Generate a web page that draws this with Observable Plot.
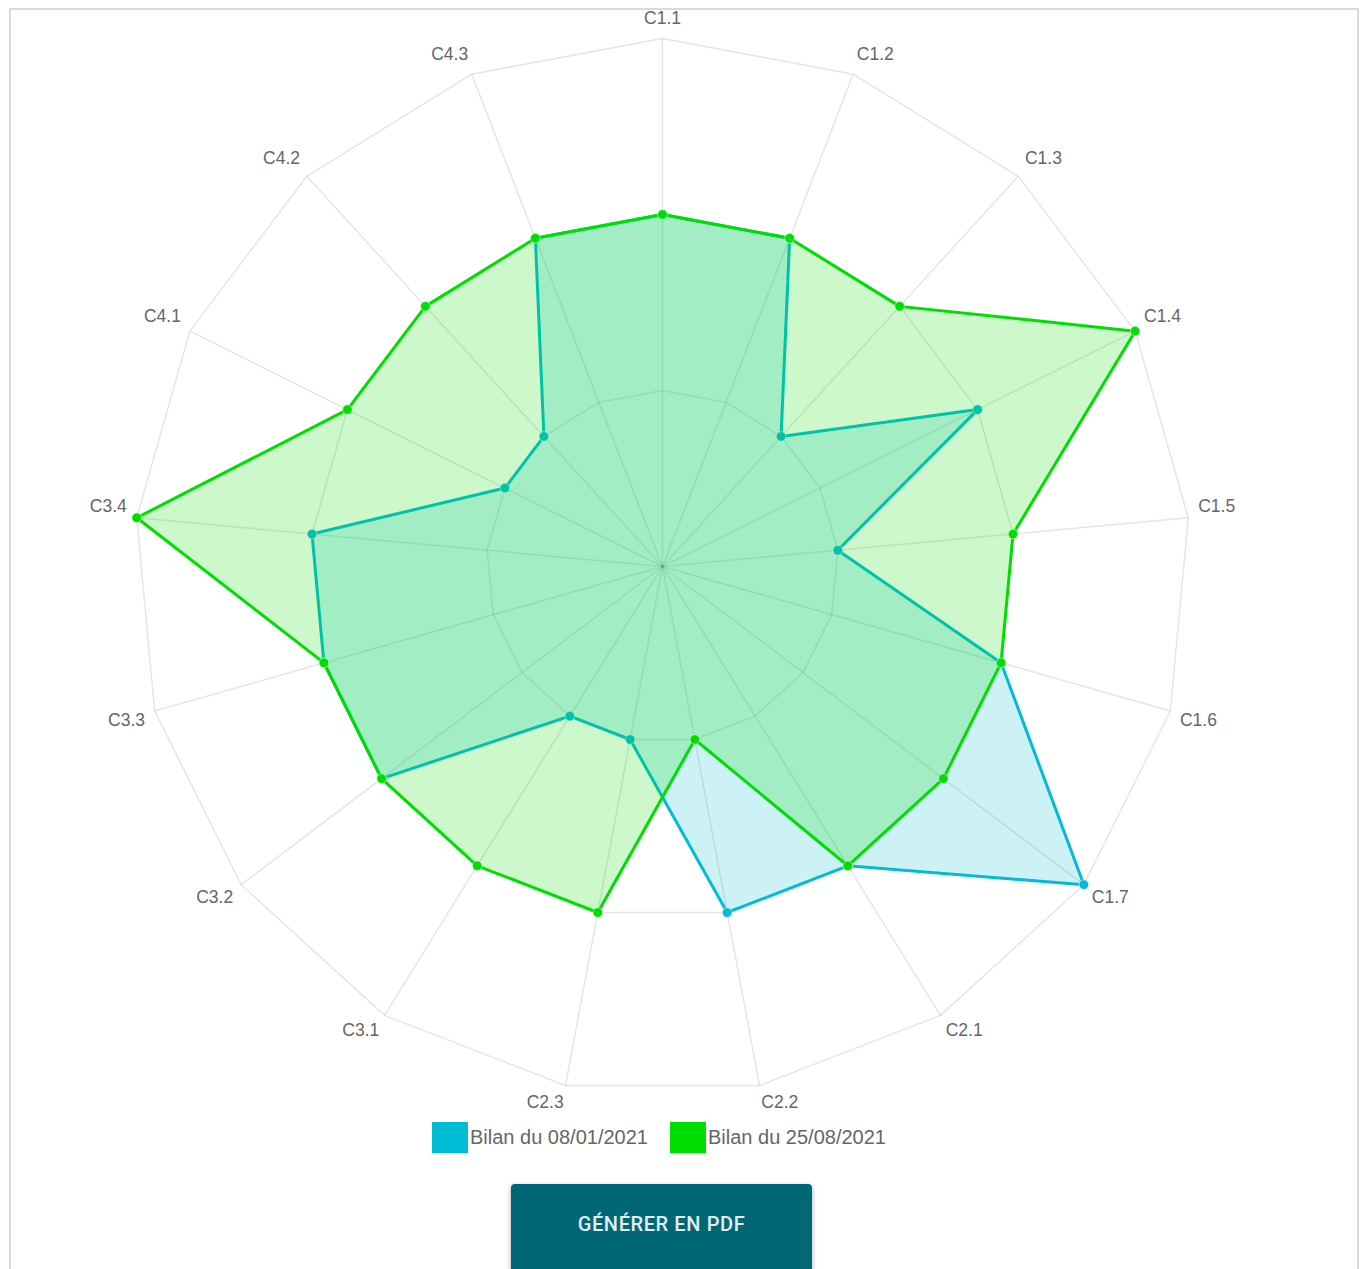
<!DOCTYPE html>
<html>
<head>
<meta charset="utf-8">
<script src="https://cdn.jsdelivr.net/npm/d3@7"></script>
<script src="https://cdn.jsdelivr.net/npm/@observablehq/plot@0.6"></script>
<style>
  html, body { margin: 0; padding: 0; background: #fff; width: 1368px; height: 1269px; overflow: hidden; }
  body { position: relative; font-family: "Liberation Sans", Arial, sans-serif; }
  #frame { position: absolute; left: 9px; top: 8px; width: 1350px; height: 1320px; border: 2px solid #d9d9d9; box-sizing: border-box; }
  #chart { position: absolute; left: 0; top: 0; }
  .lg-box { position: absolute; top: 1122px; width: 36px; height: 31px; }
  .lg-text { position: absolute; top: 1124px; font-size: 20px; line-height: 26px; color: #666; white-space: nowrap; }
  #btn { position: absolute; left: 511px; top: 1184px; width: 301px; height: 110px; background: #006875; border-radius: 4px;
         box-shadow: 0 2px 5px rgba(0,0,0,0.35); color: #e3eef0; font-family: Roboto, "Liberation Sans", sans-serif;
         font-size: 20px; font-weight: 500; text-align: center; line-height: 80px; letter-spacing: 0.6px; }
</style>
</head>
<body>
<div id="frame"></div>
<div id="chart"></div>
<div id="legend"></div>
<div id="btn">GÉNÉRER EN PDF</div>
<script>
// ---- Data ----
const axes = ["C1.1","C1.2","C1.3","C1.4","C1.5","C1.6","C1.7","C2.1","C2.2","C2.3","C3.1","C3.2","C3.3","C3.4","C4.1","C4.2","C4.3"];
const seriesNames = ["Bilan du 08/01/2021", "Bilan du 25/08/2021"];
const bilan0801 = [2,2,1,2,1,2,3,2,2,1,1,2,2,2,1,1,2];
const bilan2508 = [2,2,2,3,2,2,2,2,1,2,2,2,2,3,2,2,2];
const seriesColors = ["#00bcd4", "#00dd00"];
const ringTicks = [1, 2, 3];
const maxValue = 3;

// ---- Helpers ----
const n = axes.length;
const ang = i => i * 2 * Math.PI / n;
const px = (v, i) => v * Math.sin(ang(i));
const py = (v, i) => v * Math.cos(ang(i));

const rows = (vals, s) => axes.map((a, i) => ({axis: a, i, v: vals[i], s}));
const s0 = rows(bilan0801, 0);
const s1 = rows(bilan2508, 1);
const ringData = ringTicks.flatMap(t => axes.map((a, i) => ({t, i})));
const spokeData = axes.map((a, i) => ({axis: a, i}));

const labelR = maxValue * 538 / 528;
const labelMark = (filter, textAnchor, lineAnchor, dy) =>
  Plot.text(spokeData.filter(filter), {
    x: d => px(labelR, d.i), y: d => py(labelR, d.i), text: "axis",
    textAnchor, lineAnchor, dy, fontSize: 17.5, fill: "#666",
    fontFamily: "'Liberation Sans', Arial, sans-serif"
  });

const seriesMarks = (data, color) => [
  Plot.line(data, {x: d => px(d.v, d.i), y: d => py(d.v, d.i), curve: "linear-closed",
    fill: color, fillOpacity: 0.2, stroke: color, strokeWidth: 3, strokeLinejoin: "miter"}),
  Plot.dot(data, {x: d => px(d.v, d.i), y: d => py(d.v, d.i), r: 4.8, fill: color, stroke: "#ffffff", strokeWidth: 0.8, strokeOpacity: 0.6})
];

const chart = Plot.plot({
  width: 1368,
  height: 1115,
  axis: null,
  x: {domain: [-maxValue, maxValue], range: [134, 1190]},
  y: {domain: [-maxValue, maxValue], range: [1094, 38]},
  style: {background: "transparent", overflow: "visible"},
  marks: [
    Plot.line(ringData, {x: d => px(d.t, d.i), y: d => py(d.t, d.i), z: "t", curve: "linear-closed",
      stroke: "#000", strokeOpacity: 0.1, strokeWidth: 1.5}),
    Plot.link(spokeData, {x1: () => 0, y1: () => 0, x2: d => px(maxValue, d.i), y2: d => py(maxValue, d.i),
      stroke: "#000", strokeOpacity: 0.1, strokeWidth: 1.5}),
    ...seriesMarks(s0, seriesColors[0]),
    ...seriesMarks(s1, seriesColors[1]),
    labelMark(d => d.i === 0, "middle", "bottom", -5),
    labelMark(d => d.i >= 1 && d.i <= 4, "start", "bottom", -5),
    labelMark(d => d.i >= 5 && d.i <= 8, "start", "top", 0),
    labelMark(d => d.i >= 9 && d.i <= 12, "end", "top", 0),
    labelMark(d => d.i >= 13, "end", "bottom", -5)
  ]
});
document.getElementById("chart").appendChild(chart);

// ---- Legend ----
const legend = document.getElementById("legend");
const lgPos = [{box: 432, text: 470}, {box: 670, text: 708}];
seriesNames.forEach((name, k) => {
  const b = document.createElement("div");
  b.className = "lg-box";
  b.style.left = lgPos[k].box + "px";
  b.style.background = seriesColors[k];
  legend.appendChild(b);
  const t = document.createElement("div");
  t.className = "lg-text";
  t.style.left = lgPos[k].text + "px";
  t.textContent = name;
  legend.appendChild(t);
});
</script>
</body>
</html>
